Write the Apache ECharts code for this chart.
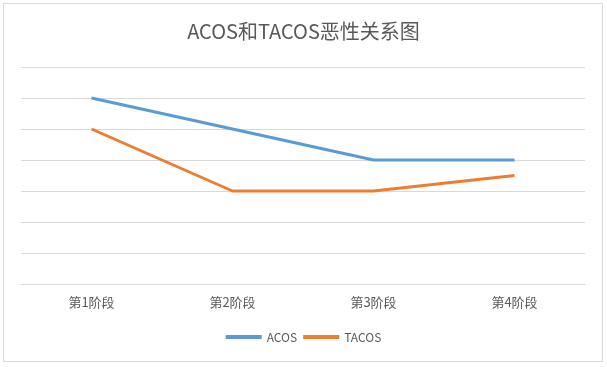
<!DOCTYPE html>
<html><head><meta charset="utf-8">
<script src="https://cdn.jsdelivr.net/npm/echarts@6/dist/echarts.min.js"></script>
<style>html,body{margin:0;padding:0;background:#fff}#c{width:607px;height:367px}</style>
</head><body><div id="c"></div>
<script>
const categories = ['第1阶段','第2阶段','第3阶段','第4阶段'];
const acos = [6, 5, 4, 4];
const tacos = [5, 3, 3, 3.5];
const chart = echarts.init(document.getElementById('c'), null, {renderer:'canvas'});
const font = '"Noto Sans CJK SC", "Noto Sans", sans-serif';
chart.setOption({
  animation:false,
  textStyle:{fontFamily:font},
  graphic:[{type:'rect',shape:{x:3.5,y:3.5,width:599,height:358},style:{fill:'none',stroke:'#d9d9d9',lineWidth:1},silent:true}],
  title:{text:'ACOS和TACOS恶性关系图',left:'center',top:16,textStyle:{fontFamily:font,fontSize:20,fontWeight:'normal',color:'#595959'}},
  legend:{bottom:19,left:'center',itemWidth:36,itemHeight:4,itemGap:6,icon:'rect',textStyle:{fontFamily:font,fontSize:12,color:'#595959'},data:['ACOS','TACOS']},
  grid:{left:21,right:22,top:67,bottom:83},
  xAxis:{type:'category',data:categories,boundaryGap:true,axisLine:{show:true,lineStyle:{color:'#d9d9d9'}},axisTick:{show:false},axisLabel:{color:'#595959',fontSize:13,margin:12,fontFamily:font}},
  yAxis:{type:'value',min:0,max:7,interval:1,axisLabel:{show:false},axisLine:{show:false},axisTick:{show:false},splitLine:{lineStyle:{color:'#d9d9d9'}}},
  series:[
    {name:'ACOS',type:'line',data:acos,symbol:'none',lineStyle:{color:'#5b9bd5',width:3},itemStyle:{color:'#5b9bd5'}},
    {name:'TACOS',type:'line',data:tacos,symbol:'none',lineStyle:{color:'#ed7d31',width:3},itemStyle:{color:'#ed7d31'}}
  ]
});
</script></body></html>
